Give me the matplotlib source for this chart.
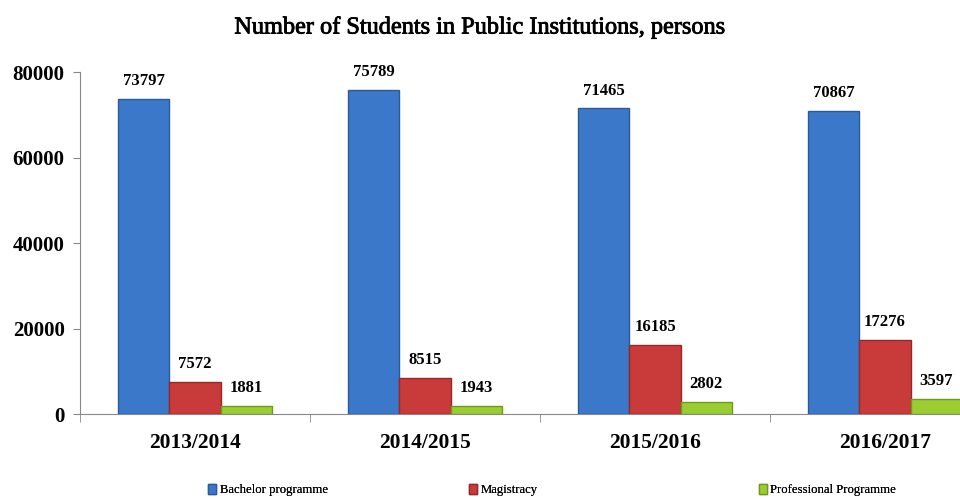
import matplotlib.pyplot as plt
import matplotlib.patheffects as pe
import numpy as np
from matplotlib.patches import Patch

# data
years = ["2013/2014", "2014/2015", "2015/2016", "2016/2017"]
bachelor = [73797, 75789, 71465, 70867]
magistracy = [7572, 8515, 16185, 17276]
professional = [1881, 1943, 2802, 3597]

series_names = ["Bachelor programme", "Magistracy", "Professional Programme"]
colors = ["#3b78c9", "#c93a3a", "#9acd32"]
edges = ["#2a5a9a", "#962828", "#6e9a1e"]

plt.rcParams['font.family'] = ['Liberation Serif', 'DejaVu Serif']

fig = plt.figure(figsize=(9.6, 4.99), dpi=100)
ax = fig.add_axes([80 / 960, 1 - 414 / 499, 920 / 960, (414 - 72) / 499])

x = np.arange(len(years))
w = 0.222
for k, vals in enumerate([bachelor, magistracy, professional]):
    bars = ax.bar(x + (k - 1) * w, vals, w, color=colors[k], edgecolor=edges[k],
                  linewidth=1, label=series_names[k], zorder=3)
    for b, v in zip(bars, vals):
        ax.annotate(str(v), (b.get_x() + b.get_width() / 2, v), xytext=(0, 7),
                    textcoords="offset points", ha="center", va="bottom",
                    fontsize=12, fontweight="bold")

ax.set_xlim(-0.5, len(years) - 0.5)
ax.set_ylim(0, 80000)
ax.set_yticks([0, 20000, 40000, 60000, 80000])
ax.set_yticklabels(["0", "20000", "40000", "60000", "80000"], fontsize=15, fontweight="bold")
ax.set_xticks(x)
ax.set_xticklabels(years, fontsize=15.5, fontweight="bold")
ax.set_xticks(np.arange(len(years) + 1) - 0.5, minor=True)
ax.tick_params(axis="x", which="major", length=0, pad=14)
ax.tick_params(axis="x", which="minor", length=6, color="#888888", direction="out")
ax.tick_params(axis="y", length=5, color="#888888", direction="out", pad=6)

for s in ["top", "right"]:
    ax.spines[s].set_visible(False)
ax.spines["left"].set_color("#888888")
ax.spines["bottom"].set_color("#888888")

# title is a semibold serif: regular weight with a thin stroke
fig.text(0.5, 1 - 28 / 499, "Number of Students in Public Institutions, persons",
         ha="center", va="center", fontsize=17.5,
         path_effects=[pe.withStroke(linewidth=0.6, foreground="black")])

# legend entries spread across the bottom
leg_x = [208 / 960, 469 / 960, 759 / 960]
for k in range(3):
    h = Patch(facecolor=colors[k], edgecolor=edges[k])
    lg = fig.legend(handles=[h], labels=[series_names[k]], loc="center left",
                    bbox_to_anchor=(leg_x[k], 1 - 490 / 499), frameon=False,
                    fontsize=9.2, handlelength=0.6, handleheight=0.8,
                    handletextpad=0.3, borderpad=0, borderaxespad=0)
    fig.add_artist(lg)

fig.savefig("out.png", dpi=100)
